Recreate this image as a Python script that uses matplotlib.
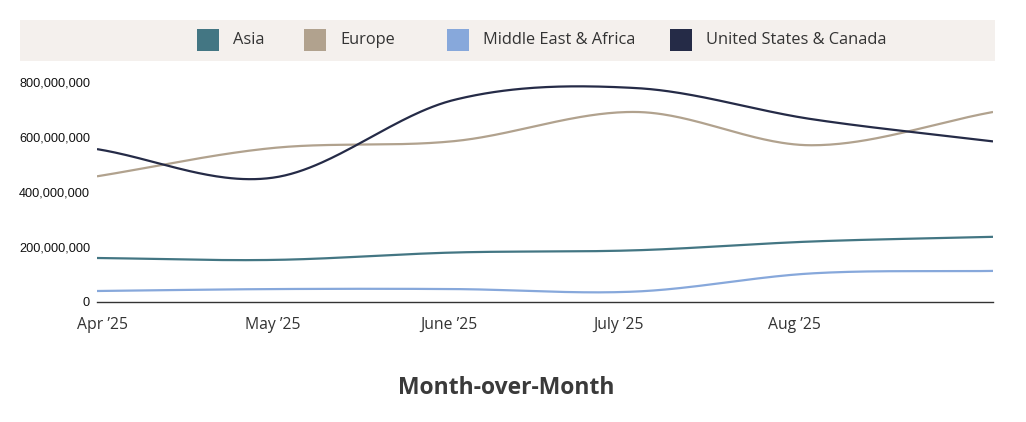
import numpy as np
import pandas as pd
import matplotlib
matplotlib.use("Agg")
import matplotlib.pyplot as plt
from matplotlib.patches import Rectangle

# data
dates = ["2025-03-31", "2025-05-01", "2025-06-02", "2025-07-04", "2025-08-04", "2025-09-05"]
series = ["Asia", "Europe", "Middle East & Africa", "United States & Canada"]
asia = [160e6, 153e6, 180e6, 188e6, 220e6, 237e6]
europe = [457e6, 560e6, 585e6, 691e6, 570e6, 691e6]
mea = [40e6, 47e6, 47e6, 38e6, 104e6, 113e6]
usc = [556e6, 452e6, 735e6, 778e6, 665e6, 584e6]
tick_dates = ["2025-04-01", "2025-05-01", "2025-06-01", "2025-07-01", "2025-08-01"]
tick_labels = ["Apr \u201925", "May \u201925", "June \u201925", "July \u201925", "Aug \u201925"]
colors = ["#437683", "#b1a28e", "#87a8db", "#252b47"]

base = pd.Timestamp("2025-04-01")
x = np.array([(pd.Timestamp(d) - base).days for d in dates], dtype=float)
xt = [(pd.Timestamp(d) - base).days for d in tick_dates]


def smooth(x, y, n=60):
    # catmull-rom style hermite curve
    y = np.asarray(y, dtype=float)
    k = len(x)
    m = np.zeros(k)
    m[0] = (y[1] - y[0]) / (x[1] - x[0])
    m[-1] = (y[-1] - y[-2]) / (x[-1] - x[-2])
    for i in range(1, k - 1):
        m[i] = (y[i + 1] - y[i - 1]) / (x[i + 1] - x[i - 1])
    xs_all, ys_all = [], []
    for i in range(k - 1):
        h = x[i + 1] - x[i]
        t = np.linspace(0, 1, n)
        h00 = 2 * t ** 3 - 3 * t ** 2 + 1
        h10 = t ** 3 - 2 * t ** 2 + t
        h01 = -2 * t ** 3 + 3 * t ** 2
        h11 = t ** 3 - t ** 2
        xs_all.append(x[i] + t * h)
        ys_all.append(h00 * y[i] + h10 * h * m[i] + h01 * y[i + 1] + h11 * h * m[i + 1])
    return np.concatenate(xs_all), np.concatenate(ys_all)


W, H = 1026, 422
fig = plt.figure(figsize=(W / 100, H / 100), dpi=100)
ax = fig.add_axes([97 / W, 120 / H, 896 / W, 220 / H])

for vals, c in zip([asia, europe, mea, usc], colors):
    xs, ys = smooth(x, vals)
    ax.plot(xs, ys, color=c, lw=1.6, solid_capstyle="butt")

ax.set_xlim(x[0], x[-1])
ax.set_ylim(0, 800e6)
ax.set_yticks(np.arange(0, 800e6 + 1, 200e6))
ax.yaxis.set_major_formatter(matplotlib.ticker.FuncFormatter(lambda v, p: f"{v:,.0f}"))
ax.set_xticks(xt)
ax.set_xticklabels(tick_labels, fontfamily="Open Sans", fontsize=11.3, color="#333333")
for lab in ax.get_yticklabels():
    lab.set_fontfamily("Liberation Sans")
    lab.set_fontsize(9.2)
    lab.set_color("#111111")
ax.tick_params(length=0)
ax.tick_params(axis="y", pad=5)
ax.tick_params(axis="x", pad=11)
for s in ["top", "right", "left"]:
    ax.spines[s].set_visible(False)
ax.spines["bottom"].set_color("#333333")
ax.spines["bottom"].set_linewidth(1)

# legend band
fig.patches.append(Rectangle((20 / W, 1 - 61 / H), 975 / W, 41 / H, transform=fig.transFigure,
                             facecolor="#f4f0ed", edgecolor="none", zorder=0))
sq_x = [197, 304, 447, 670]
for name, c, sx in zip(series, colors, sq_x):
    fig.patches.append(Rectangle((sx / W, 1 - 51 / H), 22 / W, 22 / H, transform=fig.transFigure,
                                 facecolor=c, edgecolor="none", zorder=1))
    fig.text((sx + 36) / W, 1 - 40 / H, name, ha="left", va="center", fontsize=11.8,
             fontfamily="Open Sans", color="#333333")

fig.text(506 / W, 1 - 388 / H, "Month-over-Month", ha="center", va="center", fontsize=16.5,
         fontweight="bold", fontfamily="Open Sans", color="#3a3a3a")

fig.savefig("out.png", dpi=100)
